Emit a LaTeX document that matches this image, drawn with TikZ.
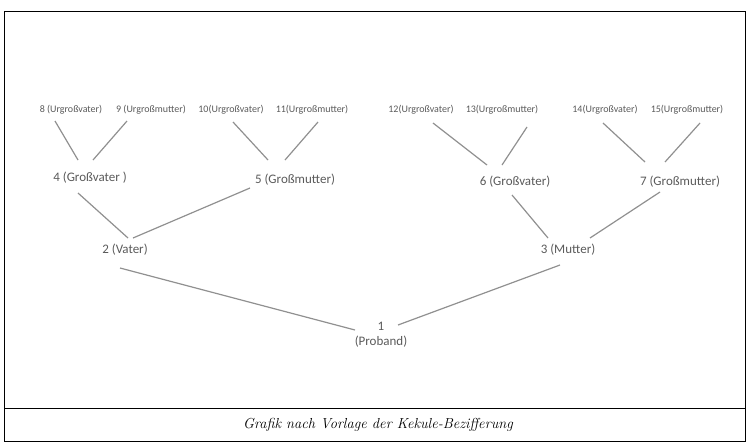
\documentclass[tikz,border=0pt]{standalone}
\usepackage{fontspec}
\setsansfont{Carlito}
\usetikzlibrary{calc}
\definecolor{txtgray}{HTML}{5A5A5A}
\definecolor{lngray}{HTML}{909090}
\begin{document}
\begin{tikzpicture}[x=1pt,y=-1pt,
  small/.style={font=\sffamily\fontsize{10}{12}\selectfont, text=txtgray, inner sep=0pt},
  mid/.style={font=\sffamily\fontsize{13}{15}\selectfont, text=txtgray, inner sep=0pt},
  conn/.style={draw=lngray, line width=1.2pt},
  frame/.style={draw=black, line width=0.9pt}]
\useasboundingbox (0,0) rectangle (749,445);
\draw[frame] (4,11) rectangle (745,441);
\draw[frame] (4,408) -- (745,408);
\node[font=\itshape\fontsize{14.5}{16}\selectfont] (cap) at (378,425) {Grafik nach Vorlage der Kekule-Bezifferung};
% top row
\node[small] (n8) at (71,110) {8 (Urgroßvater)};
\node[small] (n9) at (151,110) {9 (Urgroßmutter)};
\node[small] (n10) at (231,110) {10(Urgroßvater)};
\node[small] (n11) at (312,110) {11(Urgroßmutter)};
\node[small] (n12) at (421,110) {12(Urgroßvater)};
\node[small] (n13) at (502,110) {13(Urgroßmutter)};
\node[small] (n14) at (605,110) {14(Urgroßvater)};
\node[small] (n15) at (687,110) {15(Urgroßmutter)};
% grandparents
\node[mid] (n4) at (90,178) {4 (Großvater )};
\node[mid] (n5) at (295,180) {5 (Großmutter)};
\node[mid] (n6) at (515,182) {6 (Großvater)};
\node[mid] (n7) at (680,182) {7 (Großmutter)};
% parents
\node[mid] (n2) at (125,250) {2 (Vater)};
\node[mid] (n3) at (568,250) {3 (Mutter)};
% proband
\node[mid, align=center] (n1) at (381,335) {1\\(Proband)};
% connectors
\draw[conn] ($(n8)+(-16,11)$) -- ($(n4)+(-12,-18)$);
\draw[conn] ($(n9)+(-24,11)$) -- ($(n4)+(3,-18)$);
\draw[conn] ($(n10)+(2,12)$) -- ($(n5)+(-27,-20)$);
\draw[conn] ($(n11)+(6,12)$) -- ($(n5)+(-10,-20)$);
\draw[conn] ($(n12)+(12,13)$) -- ($(n6)+(-28,-17)$);
\draw[conn] ($(n13)+(25,17)$) -- ($(n6)+(-13,-17)$);
\draw[conn] ($(n14)+(-2,13)$) -- ($(n7)+(-35,-20)$);
\draw[conn] ($(n15)+(13,13)$) -- ($(n7)+(-15,-20)$);
\draw[conn] ($(n4)+(-12,15)$) -- ($(n2)+(3,-12)$);
\draw[conn] ($(n5)+(-45,8)$) -- ($(n2)+(8,-12)$);
\draw[conn] ($(n6)+(-3,13)$) -- ($(n3)+(-20,-12)$);
\draw[conn] ($(n7)+(-20,10)$) -- ($(n3)+(22,-12)$);
\draw[conn] ($(n2)+(-5,18)$) -- ($(n1)+(-26,-5)$);
\draw[conn] ($(n3)+(-8,15)$) -- ($(n1)+(17,-10)$);
\end{tikzpicture}
\end{document}
